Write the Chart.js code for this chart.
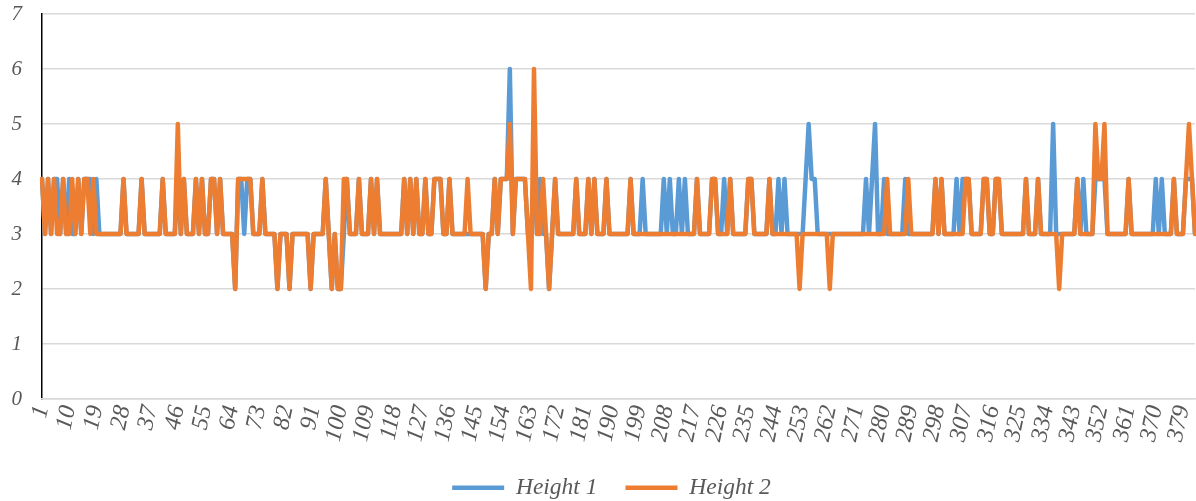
<!DOCTYPE html>
<html>
<head>
<meta charset="utf-8">
<script src="https://cdn.jsdelivr.net/npm/chart.js@4"></script>
<style>
  html, body { margin: 0; padding: 0; background: #fff; }
  #wrap { width: 1196px; height: 501px; position: relative; }
</style>
</head>
<body>
<div id="wrap"><canvas id="grafico"></canvas></div>
<script>
// valores (383 puntos por serie)
const height1 = [
  4,3,4,3,4,4,3,4,3,4,3,3,4,3,4,4,4,3,4,3,
  3,3,3,3,3,3,3,4,3,3,3,3,3,4,3,3,3,3,3,3,
  4,3,3,3,3,4,3,4,3,3,3,4,3,4,3,3,4,4,3,4,
  3,3,3,3,2,4,4,3,4,4,3,3,3,4,3,3,3,3,2,3,
  3,3,2,3,3,3,3,3,3,2,3,3,3,3,4,3,2,3,2,2,
  3,4,3,3,3,4,3,3,3,4,3,4,3,3,3,3,3,3,3,3,
  4,3,4,3,4,3,3,4,3,3,4,4,4,3,3,4,3,3,3,3,
  3,3,3,3,3,3,3,2,3,3,4,3,4,4,4,6,3,4,4,4,
  4,3,3,4,3,4,3,3,2,3,4,3,3,3,3,3,3,4,3,3,
  3,4,3,4,3,3,3,4,3,3,3,3,3,3,3,4,3,3,3,4,
  3,3,3,3,3,3,4,3,4,3,3,4,3,4,3,3,3,4,3,3,
  3,3,4,4,3,3,4,3,4,3,3,3,3,3,4,4,3,3,3,3,
  3,4,3,3,4,3,4,3,3,3,3,3,3,4,5,4,4,3,3,3,
  3,3,3,3,3,3,3,3,3,3,3,3,3,4,3,4,5,3,3,4,
  3,3,3,3,3,3,4,3,3,3,3,3,3,3,3,3,4,3,4,3,
  3,3,3,4,3,4,4,4,3,3,3,3,4,4,3,3,4,4,3,3,
  3,3,3,3,3,3,4,3,3,3,4,3,3,3,3,5,3,3,3,3,
  3,3,3,4,3,4,3,3,3,4,4,4,4,3,3,3,3,3,3,3,
  4,3,3,3,3,3,3,3,3,4,3,4,3,3,3,4,3,3,3,4,
  4,4,3
];

const height2 = [
  4,3,4,3,4,3,3,4,3,3,4,3,4,3,4,4,3,4,3,3,
  3,3,3,3,3,3,3,4,3,3,3,3,3,4,3,3,3,3,3,3,
  4,3,3,3,3,5,3,4,3,3,3,4,3,4,3,3,4,4,3,4,
  3,3,3,3,2,4,4,4,4,4,3,3,3,4,3,3,3,3,2,3,
  3,3,2,3,3,3,3,3,3,2,3,3,3,3,4,3,2,3,2,2,
  4,4,3,3,3,4,3,3,3,4,3,4,3,3,3,3,3,3,3,3,
  4,3,4,3,4,3,3,4,3,3,4,4,4,3,3,4,3,3,3,3,
  3,4,3,3,3,3,3,2,3,3,4,3,4,4,4,5,3,4,4,4,
  4,3,2,6,3,3,4,3,2,3,4,3,3,3,3,3,3,4,3,3,
  3,4,3,4,3,3,3,4,3,3,3,3,3,3,3,4,3,3,3,3,
  3,3,3,3,3,3,3,3,3,3,3,3,3,3,3,3,3,4,3,3,
  3,3,4,4,3,3,3,3,4,3,3,3,3,3,4,4,3,3,3,3,
  3,4,3,3,3,3,3,3,3,3,3,2,3,3,3,3,3,3,3,3,
  3,2,3,3,3,3,3,3,3,3,3,3,3,3,3,3,3,3,3,3,
  4,3,3,3,3,3,3,4,3,3,3,3,3,3,3,3,4,3,4,3,
  3,3,3,3,3,3,4,4,3,3,3,3,4,4,3,3,4,4,3,3,
  3,3,3,3,3,3,4,3,3,3,4,3,3,3,3,3,3,2,3,3,
  3,3,3,4,3,3,3,3,3,5,4,4,5,3,3,3,3,3,3,3,
  4,3,3,3,3,3,3,3,3,3,3,3,3,3,3,4,3,3,3,4,
  5,4,3
];

const categories = height1.map((v, i) => String(i + 1));
const yTicks = [0, 1, 2, 3, 4, 5, 6, 7];
const labelStep = 9;

const fontFamily = '"Liberation Serif", "Times New Roman", serif';
const textColor = "#595959";

// la leyenda del original está un poco a la derecha del centro
const legendShift = {
  id: "legendShift",
  afterLayout(chart) {
    chart.legend.left += 14;
    chart.legend.right += 14;
  },
};

const ctx = document.getElementById("grafico").getContext("2d");

new Chart(ctx, {
  type: "line",
  data: {
    labels: categories,
    datasets: [
      {
        label: "Height 1",
        data: height1,
        borderColor: "#5B9BD5",
        backgroundColor: "#5B9BD5",
        borderWidth: 4.5,
        pointRadius: 0,
        tension: 0,
        borderJoinStyle: "round",
        borderCapStyle: "round",
        order: 1,
      },
      {
        label: "Height 2",
        data: height2,
        borderColor: "#ED7D31",
        backgroundColor: "#ED7D31",
        borderWidth: 4.5,
        pointRadius: 0,
        tension: 0,
        borderJoinStyle: "round",
        borderCapStyle: "round",
        order: 0,
      },
    ],
  },
  plugins: [legendShift],
  options: {
    responsive: true,
    maintainAspectRatio: false,
    animation: false,
    layout: { padding: { top: 14, right: 1, left: 0, bottom: 0 } },
    plugins: {
      tooltip: { enabled: false },
      legend: {
        position: "bottom",
        maxHeight: 53,
        labels: {
          usePointStyle: true,
          pointStyle: "line",
          pointStyleWidth: 52,
          padding: 28,
          color: textColor,
          font: { family: fontFamily, size: 23.5, style: "italic" },
          sort: (a, b) => a.datasetIndex - b.datasetIndex,
        },
      },
    },
    scales: {
      y: {
        min: 0,
        max: 7,
        afterFit: (scale) => {
          scale.width = 42;
          scale.paddingTop = 0;
          scale.paddingBottom = 0;
        },
        afterBuildTicks: (scale) => { scale.ticks = yTicks.map((v) => ({ value: v })); },
        ticks: {
          padding: 20,
          color: textColor,
          font: { family: fontFamily, size: 21, style: "italic" },
        },
        grid: { color: "#D9D9D9", lineWidth: 1.5, drawTicks: false },
        border: { color: "#000000", width: 1.5 },
      },
      x: {
        afterFit: (scale) => {
          scale.height = 49;
          scale.paddingLeft = 0;
          scale.paddingRight = 0;
        },
        ticks: {
          autoSkip: false,
          minRotation: 78,
          maxRotation: 78,
          padding: 4,
          color: textColor,
          font: { family: fontFamily, size: 24, style: "italic" },
          callback: function (value, index) {
            return index % labelStep === 0 ? categories[index] : "";
          },
        },
        grid: { display: false, drawTicks: false },
        border: { color: "#D9D9D9", width: 1.5 },
      },
    },
  },
});
</script>
</body>
</html>
